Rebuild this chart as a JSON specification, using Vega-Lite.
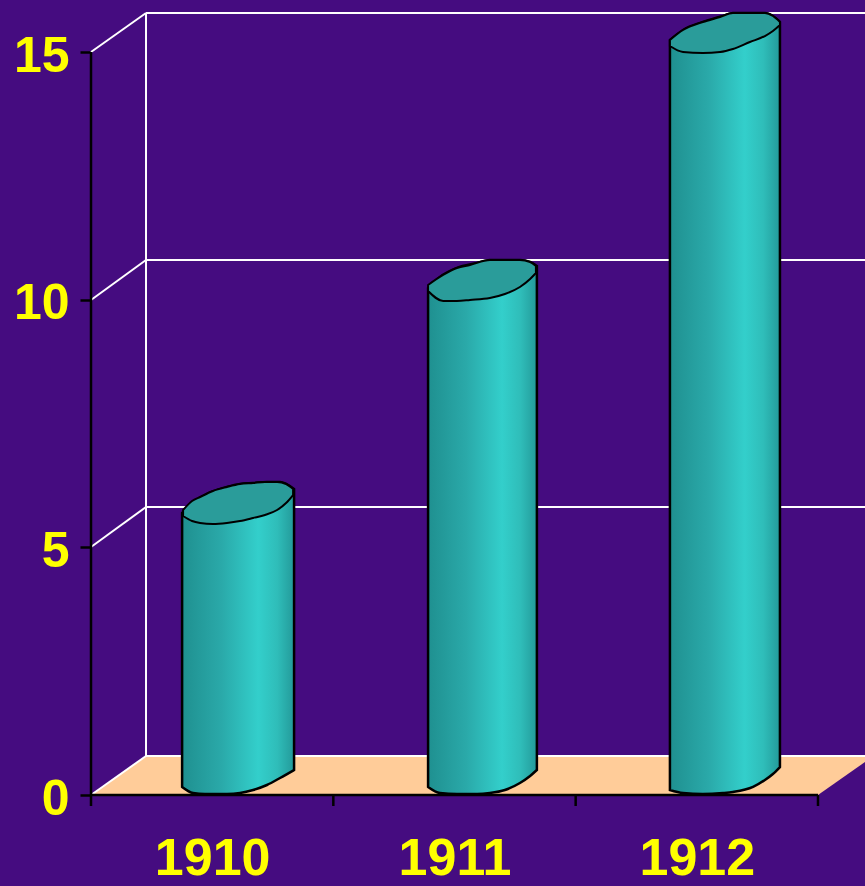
{
"$schema":"https://vega.github.io/schema/vega-lite/v6.json",
"width":774,"height":795,
"autosize":{"type":"none"},
"padding":{"left":91,"top":0,"right":0,"bottom":91},
"background":"#450c80",
"config":{"view":{"stroke":null},"font":"Liberation Sans"},
"datasets":{
"floor":[{"x":0,"y":0,"y2":0},{"x":0.227,"y":0,"y2":0.787},{"x":3,"y":0,"y2":0.787},{"x":3.194,"y":0.666,"y2":0.787}],
"white":[
{"x":0.227,"x2":3.194,"y":15.789,"y2":15.789},
{"x":0.227,"x2":3.194,"y":10.802,"y2":10.802},
{"x":0.227,"x2":3.194,"y":5.815,"y2":5.815},
{"x":0.227,"x2":3.194,"y":0.787,"y2":0.787},
{"x":0.227,"x2":0.227,"y":0.787,"y2":15.789},
{"x":0,"x2":0.227,"y":15.001,"y2":15.789},
{"x":0,"x2":0.227,"y":9.994,"y2":10.802},
{"x":0,"x2":0.227,"y":5.007,"y2":5.815},
{"x":0,"x2":0.227,"y":0,"y2":0.787}],
"black":[
{"x":0,"x2":0,"y":-0.222,"y2":15.001},
{"x":0,"x2":3,"y":0,"y2":0},
{"x":1,"x2":1,"y":-0.222,"y2":0},
{"x":2,"x2":2,"y":-0.222,"y2":0},
{"x":3,"x2":3,"y":-0.222,"y2":0}],
"body":[
{"year":1910,"x":0.376,"y":5.694,"y2":0.162},{"year":1910,"x":0.421,"y":5.895,"y2":0.04},{"year":1910,"x":0.47,"y":6.057,"y2":0.02},{"year":1910,"x":0.52,"y":6.158,"y2":0.02},{"year":1910,"x":0.561,"y":6.219,"y2":0.02},{"year":1910,"x":0.615,"y":6.279,"y2":0.04},{"year":1910,"x":0.669,"y":6.299,"y2":0.101},{"year":1910,"x":0.726,"y":6.319,"y2":0.202},{"year":1910,"x":0.78,"y":6.319,"y2":0.343},{"year":1910,"x":0.838,"y":6.178,"y2":0.505},
{"year":1911,"x":1.391,"y":10.236,"y2":0.162},{"year":1911,"x":1.44,"y":10.458,"y2":0.04},{"year":1911,"x":1.51,"y":10.64,"y2":0.02},{"year":1911,"x":1.593,"y":10.741,"y2":0.02},{"year":1911,"x":1.646,"y":10.802,"y2":0.04},{"year":1911,"x":1.708,"y":10.802,"y2":0.101},{"year":1911,"x":1.77,"y":10.802,"y2":0.242},{"year":1911,"x":1.812,"y":10.761,"y2":0.384},{"year":1911,"x":1.84,"y":10.68,"y2":0.505},
{"year":1912,"x":2.389,"y":15.243,"y2":0.101},{"year":1912,"x":2.443,"y":15.445,"y2":0.04},{"year":1912,"x":2.525,"y":15.607,"y2":0.02},{"year":1912,"x":2.608,"y":15.728,"y2":0.04},{"year":1912,"x":2.649,"y":15.789,"y2":0.061},{"year":1912,"x":2.732,"y":15.789,"y2":0.162},{"year":1912,"x":2.781,"y":15.789,"y2":0.303},{"year":1912,"x":2.814,"y":15.728,"y2":0.424},{"year":1912,"x":2.843,"y":15.607,"y2":0.565}],
"cap":[
{"year":1910,"x":0.38,"y":5.754,"y2":5.633},{"year":1910,"x":0.417,"y":5.935,"y2":5.532},{"year":1910,"x":0.45,"y":6.017,"y2":5.492},{"year":1910,"x":0.503,"y":6.138,"y2":5.471},{"year":1910,"x":0.561,"y":6.219,"y2":5.492},{"year":1910,"x":0.615,"y":6.279,"y2":5.532},{"year":1910,"x":0.669,"y":6.299,"y2":5.593},{"year":1910,"x":0.718,"y":6.319,"y2":5.653},{"year":1910,"x":0.768,"y":6.319,"y2":5.754},{"year":1910,"x":0.805,"y":6.279,"y2":5.895},{"year":1910,"x":0.834,"y":6.178,"y2":6.057},
{"year":1911,"x":1.391,"y":10.297,"y2":10.175},{"year":1911,"x":1.453,"y":10.499,"y2":9.974},{"year":1911,"x":1.51,"y":10.64,"y2":9.974},{"year":1911,"x":1.564,"y":10.701,"y2":9.994},{"year":1911,"x":1.646,"y":10.802,"y2":10.034},{"year":1911,"x":1.708,"y":10.802,"y2":10.115},{"year":1911,"x":1.77,"y":10.802,"y2":10.256},{"year":1911,"x":1.812,"y":10.761,"y2":10.418},{"year":1911,"x":1.836,"y":10.68,"y2":10.539},
{"year":1912,"x":2.389,"y":15.243,"y2":15.122},{"year":1912,"x":2.443,"y":15.445,"y2":15.001},{"year":1912,"x":2.525,"y":15.607,"y2":14.981},{"year":1912,"x":2.596,"y":15.708,"y2":15.001},{"year":1912,"x":2.649,"y":15.789,"y2":15.062},{"year":1912,"x":2.719,"y":15.789,"y2":15.203},{"year":1912,"x":2.781,"y":15.789,"y2":15.324},{"year":1912,"x":2.814,"y":15.728,"y2":15.425},{"year":1912,"x":2.843,"y":15.607,"y2":15.546}]
},
"encoding":{
"x":{"field":"x","type":"quantitative","title":null,"scale":{"domain":[0,3.194],"nice":false,"zero":false},
"axis":{"values":[0.5,1.5,2.5],"labelExpr":"format(datum.value+1909.5,'d')","domain":false,"ticks":false,"grid":false,"labelColor":"#ffff00","labelFont":"Liberation Sans","labelFontWeight":"bold","labelFontSize":52,"labelPadding":38,"labelFlush":false,"labelOverlap":false}},
"y":{"field":"y","type":"quantitative","title":null,"scale":{"domain":[0,16.051],"nice":false,"zero":false},
"axis":{"values":[0,5,10,15],"domain":false,"grid":false,"tickColor":"#000000","tickWidth":2.5,"tickSize":11,"labelColor":"#ffff00","labelFont":"Liberation Sans","labelFontWeight":"bold","labelFontSize":50,"labelPadding":11,"labelFlush":false,"labelOverlap":false,"labelOffset":4}}
},
"layer":[
{"data":{"name":"floor"},"mark":{"type":"area","orient":"vertical","fill":"#ffcc99"},"encoding":{"y2":{"field":"y2"}}},
{"data":{"name":"white"},"mark":{"type":"rule","color":"#ffffff","strokeWidth":2},"encoding":{"x2":{"field":"x2"},"y2":{"field":"y2"}}},
{"data":{"name":"black"},"mark":{"type":"rule","color":"#000000","strokeWidth":2.5},"encoding":{"x2":{"field":"x2"},"y2":{"field":"y2"}}},
{"data":{"name":"body"},"mark":{"type":"area","orient":"vertical","interpolate":"monotone","stroke":"#000000","strokeWidth":2.5,
"fill":{"gradient":"linear","x1":0,"y1":0,"x2":1,"y2":0,"stops":[{"offset":0,"color":"#1f9090"},{"offset":0.35,"color":"#2aa9a9"},{"offset":0.68,"color":"#33cfcb"},{"offset":0.85,"color":"#2fbdb9"},{"offset":1,"color":"#239a9a"}]}},
"encoding":{"y2":{"field":"y2"},"detail":{"field":"year","type":"nominal"}}},
{"data":{"name":"cap"},"mark":{"type":"area","orient":"vertical","interpolate":"monotone","fill":"#2a9c9a","stroke":"#000000","strokeWidth":2},
"encoding":{"y2":{"field":"y2"},"detail":{"field":"year","type":"nominal"}}}
]
}
